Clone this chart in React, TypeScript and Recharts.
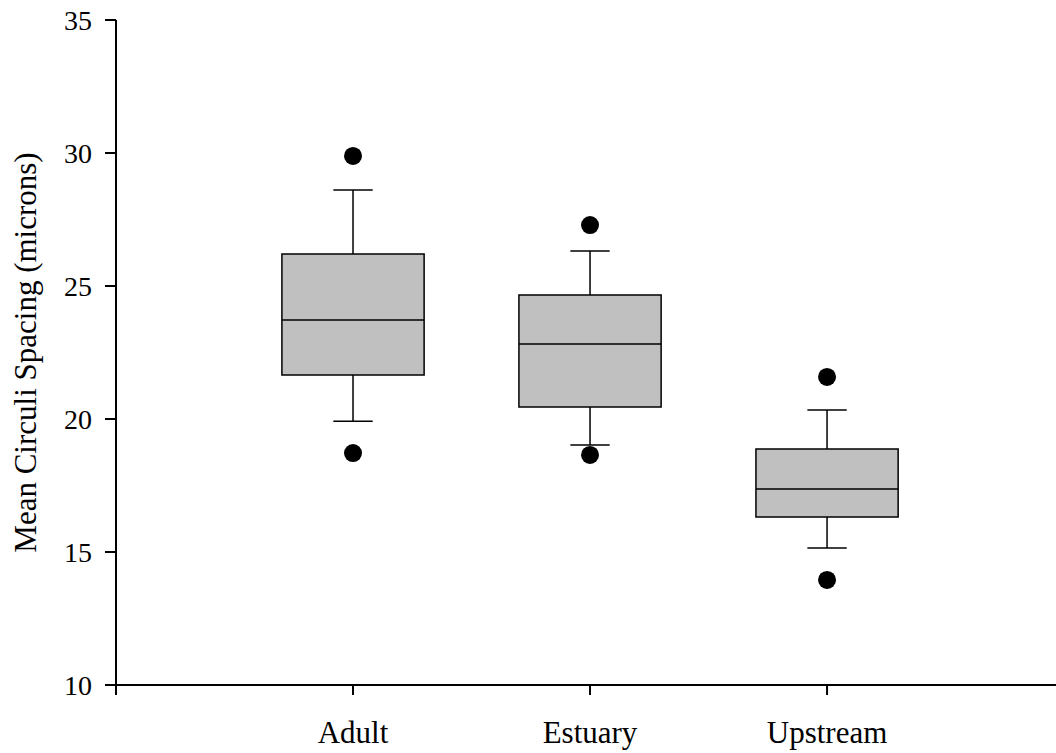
import React from 'react';
import {
  ComposedChart,
  XAxis,
  YAxis,
  ReferenceArea,
  ReferenceLine,
  Scatter,
} from 'recharts';

// ---- data ----
const categories = ['Adult', 'Estuary', 'Upstream'];
const whiskerLow = [19.92, 19.02, 15.15];
const q1 = [21.65, 20.45, 16.32];
const median = [23.72, 22.82, 17.37];
const q3 = [26.2, 24.66, 18.87];
const whiskerHigh = [28.61, 26.32, 20.34];
const outliersLow = [18.72, 18.65, 13.95];
const outliersHigh = [29.89, 27.29, 21.58];
const yTicks = [10, 15, 20, 25, 30, 35];
const xTicks = [0, 1, 2, 3];

const outlierPoints = categories.flatMap((_, i) => [
  { x: i + 1, y: outliersLow[i] },
  { x: i + 1, y: outliersHigh[i] },
]);

const FONT = "'Liberation Serif', 'Times New Roman', serif";
const BOX_HALF = 0.3;
const CAP_HALF = 0.083;

const Dot = (props: any) => (
  <circle cx={props.cx} cy={props.cy} r={9} fill="#000" />
);

export default function App() {
  return (
    <div style={{ position: 'absolute', left: 0, top: 0, background: '#fff' }}>
      <ComposedChart
        width={1056}
        height={753}
        margin={{ top: 20, right: 0, bottom: 0, left: 0 }}
      >
        <XAxis
          type="number"
          dataKey="x"
          domain={[0, 3.966]}
          allowDataOverflow
          ticks={xTicks}
          tickFormatter={(v: number) => categories[v - 1] ?? ''}
          height={68}
          tickSize={10}
          tickMargin={26}
          axisLine={{ stroke: '#000', strokeWidth: 2 }}
          tickLine={{ stroke: '#000', strokeWidth: 2 }}
          tick={{ fill: '#000', fontSize: 31, fontFamily: FONT }}
          interval={0}
        />
        <YAxis
          type="number"
          dataKey="y"
          domain={[10, 35]}
          ticks={yTicks}
          width={116}
          tickSize={11}
          tickMargin={13}
          axisLine={{ stroke: '#000', strokeWidth: 2 }}
          tickLine={{ stroke: '#000', strokeWidth: 2 }}
          tick={{ fill: '#000', fontSize: 28, fontFamily: FONT }}
          interval={0}
          label={{
            value: 'Mean Circuli Spacing (microns)',
            angle: -90,
            position: 'insideLeft',
            offset: 25,
            style: { textAnchor: 'middle', fill: '#000', fontSize: 31, fontFamily: FONT },
          }}
        />
        {categories.map((c, i) => (
          <ReferenceLine
            key={'wh' + c}
            segment={[
              { x: i + 1, y: q3[i] },
              { x: i + 1, y: whiskerHigh[i] },
            ]}
            stroke="#000"
            strokeWidth={1.5}
          />
        ))}
        {categories.map((c, i) => (
          <ReferenceLine
            key={'wl' + c}
            segment={[
              { x: i + 1, y: q1[i] },
              { x: i + 1, y: whiskerLow[i] },
            ]}
            stroke="#000"
            strokeWidth={1.5}
          />
        ))}
        {categories.map((c, i) => (
          <ReferenceLine
            key={'ch' + c}
            segment={[
              { x: i + 1 - CAP_HALF, y: whiskerHigh[i] },
              { x: i + 1 + CAP_HALF, y: whiskerHigh[i] },
            ]}
            stroke="#000"
            strokeWidth={1.5}
          />
        ))}
        {categories.map((c, i) => (
          <ReferenceLine
            key={'cl' + c}
            segment={[
              { x: i + 1 - CAP_HALF, y: whiskerLow[i] },
              { x: i + 1 + CAP_HALF, y: whiskerLow[i] },
            ]}
            stroke="#000"
            strokeWidth={1.5}
          />
        ))}
        {categories.map((c, i) => (
          <ReferenceArea
            key={'box' + c}
            x1={i + 1 - BOX_HALF}
            x2={i + 1 + BOX_HALF}
            y1={q1[i]}
            y2={q3[i]}
            fill="#c0c0c0"
            fillOpacity={1}
            stroke="#000"
            strokeWidth={1.5}
          />
        ))}
        {categories.map((c, i) => (
          <ReferenceLine
            key={'med' + c}
            segment={[
              { x: i + 1 - BOX_HALF, y: median[i] },
              { x: i + 1 + BOX_HALF, y: median[i] },
            ]}
            stroke="#000"
            strokeWidth={1.5}
          />
        ))}
        <Scatter
          data={outlierPoints}
          dataKey="y"
          shape={Dot}
          isAnimationActive={false}
        />
      </ComposedChart>
    </div>
  );
}
